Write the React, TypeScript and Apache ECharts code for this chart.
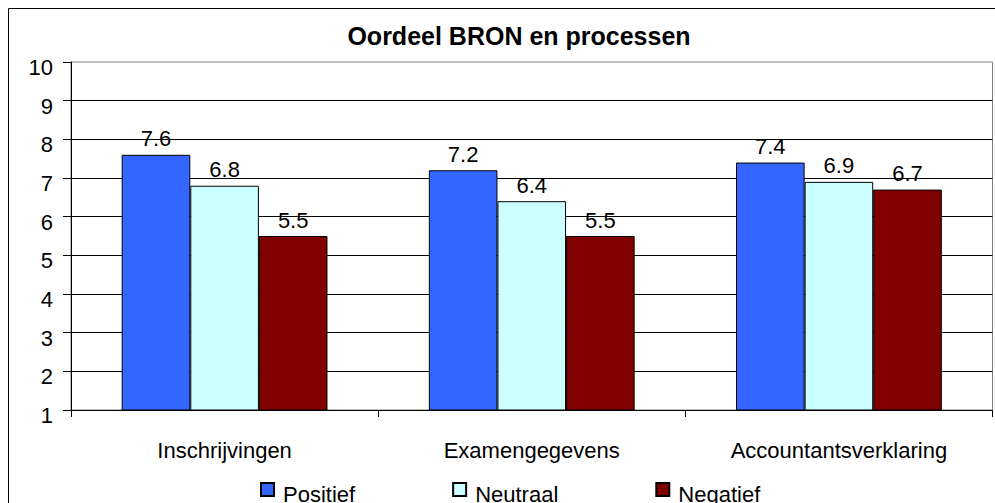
import React, { useEffect, useRef } from "react";
import * as echarts from "echarts";

const categories = ["Inschrijvingen", "Examengegevens", "Accountantsverklaring"];
const seriesNames = ["Positief", "Neutraal", "Negatief"];
const positief = [7.6, 7.2, 7.4];
const neutraal = [6.8, 6.4, 6.9];
const negatief = [5.5, 5.5, 6.7];
const colors = ["#3366FF", "#CCFFFF", "#800000"];
const yMin = 1;
const yMax = 10;
const yInterval = 1;
const title = "Oordeel BRON en processen";

const FONT = "'Liberation Sans', Arial, Helvetica, sans-serif";

export default function App() {
  const ref = useRef<HTMLDivElement>(null);
  useEffect(() => {
    if (!ref.current) return;
    const chart = echarts.init(ref.current, null, { renderer: "svg" });
    const values = [positief, neutraal, negatief];
    chart.setOption({
      animation: false,
      backgroundColor: "#ffffff",
      textStyle: { fontFamily: FONT },
      title: {
        text: title,
        left: 514,
        top: 18,
        textAlign: "center",
        textStyle: { fontFamily: FONT, fontSize: 25, fontWeight: "bold", color: "#000" },
      },
      graphic: [
        {
          type: "rect",
          shape: { x: 8.5, y: 8.5, width: 1020, height: 520 },
          style: { fill: "none", stroke: "#000", lineWidth: 1 },
          silent: true,
        },
      ],
      legend: {
        left: 260,
        top: 482,
        padding: 0,
        itemGap: 97,
        itemWidth: 17,
        itemHeight: 23,
        icon: "path://M0,0L13,0L13,13L0,13Z M17,23",
        data: seriesNames,
        textStyle: { fontFamily: FONT, fontSize: 22, color: "#000" },
      },
      grid: {
        left: 71,
        right: 2.5,
        top: 62,
        bottom: 93,
        show: true,
        borderColor: "#808080",
        borderWidth: 1,
        backgroundColor: "transparent",
      },
      xAxis: {
        type: "category",
        data: categories,
        axisLine: { lineStyle: { color: "#000", width: 1 } },
        axisTick: { show: true, length: 7, interval: 0, alignWithLabel: false, lineStyle: { color: "#000" } },
        axisLabel: { fontFamily: FONT, fontSize: 22, color: "#000", margin: 29, interval: 0 },
        splitLine: { show: false },
      },
      yAxis: {
        type: "value",
        min: yMin,
        max: yMax,
        interval: yInterval,
        axisLine: { show: true, lineStyle: { color: "#000", width: 1 } },
        axisTick: { show: true, length: 8, lineStyle: { color: "#000" } },
        axisLabel: {
          fontFamily: FONT,
          fontSize: 22,
          color: "#000",
          margin: 18,
          verticalAlign: "top",
          lineHeight: 11,
        },
        splitLine: { show: true, showMaxLine: false, lineStyle: { color: "#000", width: 1 } },
      },
      series: seriesNames.map((name, i) => ({
        name,
        type: "bar",
        data: values[i],
        barGap: "0%",
        barCategoryGap: "33%",
        itemStyle: { color: colors[i], borderColor: "#000", borderWidth: 1 },
        label: {
          show: true,
          position: "top",
          distance: 5,
          fontFamily: FONT,
          fontSize: 22,
          color: "#000",
          formatter: (p: any) => Number(p.value).toFixed(1),
        },
      })),
    });
    return () => chart.dispose();
  }, []);
  return (
    <div
      ref={ref}
      style={{ position: "absolute", left: 0, top: 0, width: 995, height: 503 }}
    />
  );
}
